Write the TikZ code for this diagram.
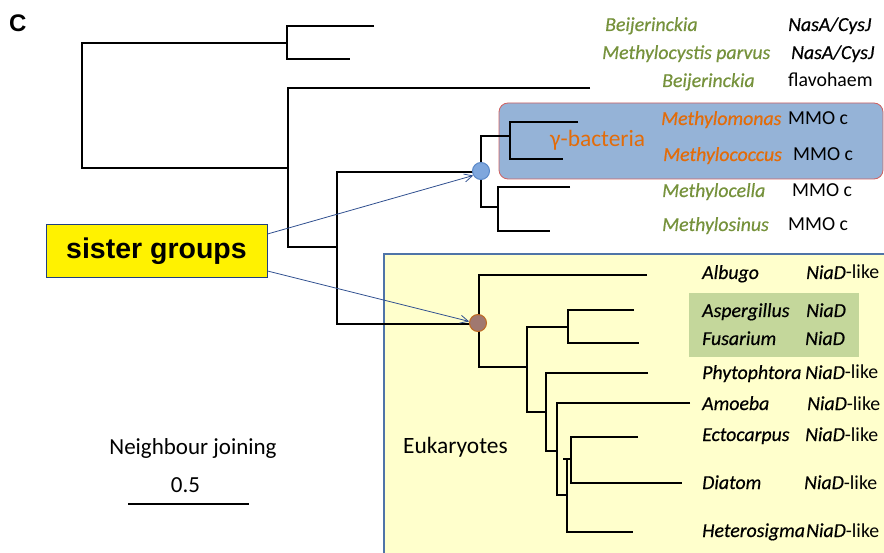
\documentclass[tikz,border=0pt]{standalone}
\usepackage{fontspec}
\setmainfont{Carlito}
\newfontfamily\labfont{Carlito}[FakeBold=0.5, ItalicFeatures={FakeBold=0.5}]
\newfontfamily\arialfont{Liberation Sans}
\usetikzlibrary{arrows.meta}
\definecolor{labgreen}{HTML}{76923C}
\definecolor{laborange}{HTML}{E36C09}
\definecolor{bluefill}{HTML}{95B3D7}
\definecolor{boxred}{HTML}{D06060}
\definecolor{eukfill}{HTML}{FFFFCC}
\definecolor{eukborder}{HTML}{4F74A8}
\definecolor{greenfill}{HTML}{C4D79B}
\definecolor{sisterborder}{HTML}{1F3F80}
\definecolor{arrowblue}{HTML}{2F4F8F}
\definecolor{bnodefill}{HTML}{7FA7DD}
\definecolor{bnodeborder}{HTML}{5A88C8}
\definecolor{rnodefill}{HTML}{A07870}
\definecolor{rnodeborder}{HTML}{C06A20}
\begin{document}
\begin{tikzpicture}[x=1pt,y=-1pt,
  tree/.style={line width=1.5pt, black, line join=miter},
  lab/.style={anchor=base west, inner sep=0pt, font=\labfont\fontsize{19.8}{22}\selectfont\itshape},
  gene/.style={anchor=base west, inner sep=0pt, font=\fontsize{19.8}{22}\selectfont},
  big/.style={anchor=base west, inner sep=0pt, font=\fontsize{23.4}{26}\selectfont},
  pointer/.style={arrowblue, line width=0.8pt, -{Straight Barb[length=8pt,width=8pt]}},
  dot/.style={circle, inner sep=0pt, minimum size=17pt, line width=1pt}
]
\useasboundingbox (0,0) rectangle (884,553);
% background boxes
\path[draw=boxred, fill=bluefill, rounded corners=9pt, line width=0.8pt] (499,103) rectangle (883,179);
\path[draw=eukborder, fill=eukfill, line width=2pt] (384,254) rectangle (900,570);
\path[fill=greenfill] (689,293) rectangle (859,357);
% tree
\draw[tree] (287,43) -- (82,43) -- (82,168) -- (288,168);
\draw[tree] (374,26) -- (287,26) -- (287,59) -- (350,59);
\draw[tree] (590,88) -- (288,88) -- (288,247) -- (337,247);
\draw[tree] (481,172) -- (337,172) -- (337,324) -- (479,324);
\draw[tree] (510,136) -- (481,136) -- (481,207) -- (498,207);
\draw[tree] (578,122) -- (510,122) -- (510,159) -- (563,159);
\draw[tree] (570,187) -- (498,187) -- (498,231) -- (550,231);
\draw[tree] (647,275) -- (479,275) -- (479,367) -- (527,367);
\draw[tree] (568,327) -- (527,327) -- (527,412) -- (546,412);
\draw[tree] (634,310) -- (568,310) -- (568,343) -- (639,343);
\draw[tree] (648,373) -- (546,373) -- (546,451) -- (557,451);
\draw[tree] (690,403) -- (557,403) -- (557,495) -- (567,495);
\draw[tree] (567,459) -- (567,532) -- (633,532);
\draw[tree] (563,459) -- (571,459);
\draw[tree] (638,437) -- (571,437) -- (571,483) -- (682,483);
% internal nodes
\node[dot, fill=bnodefill, draw=bnodeborder] (bnode) at (481,171) {};
\node[dot, fill=rnodefill, draw=rnodeborder] (rnode) at (478,323) {};
% sister groups
\node[draw=sisterborder, fill=yellow, line width=1pt, minimum width=221pt, minimum height=53pt, inner sep=0pt,
  font=\arialfont\bfseries\fontsize{28.5}{30}\selectfont] (sister) at (156.5,251.5) {sister groups};
\draw[pointer] ([yshift=17.5pt]sister.east) -- (bnode.210);
\draw[pointer] ([yshift=-19.5pt]sister.east) -- (rnode.170);
% panel letter
\node[anchor=north west, inner sep=0pt, font=\arialfont\bfseries\fontsize{24}{26}\selectfont] (panel) at (9,15) {C};
% bacterial labels
\node[lab, labgreen] (t1) at (605,31) {Beijerinckia};
\node[lab] (g1) at (788,31) {NasA/CysJ};
\node[lab, labgreen] (t2) at (602,59) {Methylocystis parvus};
\node[lab] (g2) at (791,59) {NasA/CysJ};
\node[lab, labgreen] (t3) at (662,87) {Beijerinckia};
\node[gene] (g3) at (788,87) {flavohaem};
\node[lab, laborange] (t4) at (661,125) {Methylomonas};
\node[gene] (g4) at (788,125) {MMO c};
\node[lab, laborange] (t5) at (663,161) {Methylococcus};
\node[gene] (g5) at (793,161) {MMO c};
\node[lab, labgreen] (t6) at (662,197) {Methylocella};
\node[gene] (g6) at (792,197) {MMO c};
\node[lab, labgreen] (t7) at (662,231) {Methylosinus};
\node[gene] (g7) at (788,231) {MMO c};
\node[big, laborange] (gamma) at (550,147) {γ-bacteria};
% eukaryote labels
\node[lab] (e1) at (702,279) {Albugo};
\node[gene] (h1) at (806,279) {{\labfont\itshape NiaD}-like};
\node[lab] (e2) at (702,317) {Aspergillus};
\node[lab] (h2) at (806,317) {NiaD};
\node[lab] (e3) at (702,345) {Fusarium};
\node[lab] (h3) at (805,345) {NiaD};
\node[lab] (e4) at (702,379) {Phytophtora};
\node[gene] (h4) at (805,379) {{\labfont\itshape NiaD}-like};
\node[lab] (e5) at (702,410) {Amoeba};
\node[gene] (h5) at (807,410) {{\labfont\itshape NiaD}-like};
\node[lab] (e6) at (702,441) {Ectocarpus};
\node[gene] (h6) at (805,441) {{\labfont\itshape NiaD}-like};
\node[lab] (e7) at (702,489) {Diatom};
\node[gene] (h7) at (804,489) {{\labfont\itshape NiaD}-like};
\node[lab] (e8) at (702,537) {Heterosigma};
\node[gene] (h8) at (806,537) {{\labfont\itshape NiaD}-like};
\node[big] (euk) at (403,453) {Eukaryotes};
% scale
\node[anchor=base, inner sep=0pt, font=\fontsize{23}{26}\selectfont] (nj) at (193,454) {Neighbour joining};
\node[anchor=base, inner sep=0pt, font=\fontsize{23}{26}\selectfont] (scl) at (185.5,492) {0.5};
\coordinate (sb1) at (128,504);
\coordinate (sb2) at (249,504);
\draw[line width=1.5pt] (sb1) -- (sb2);
\end{tikzpicture}
\end{document}
